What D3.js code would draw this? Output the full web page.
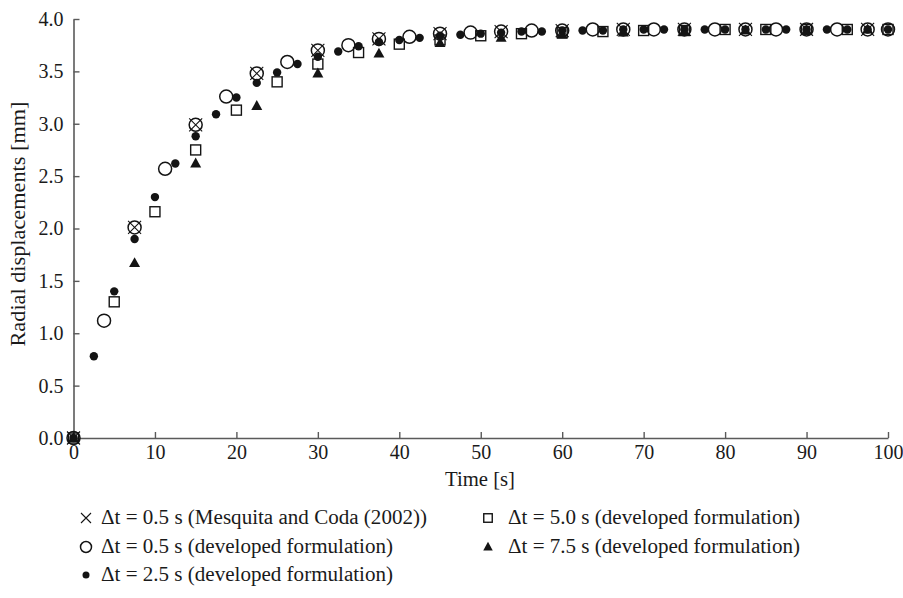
<!DOCTYPE html>
<html><head><meta charset="utf-8">
<script src="https://cdn.jsdelivr.net/npm/d3@7"></script>
<style>
html,body{margin:0;padding:0;background:#fff;}
text{font-family:"Liberation Serif","Times New Roman",serif;fill:#1a1a1a;}
</style></head>
<body><svg id="c" width="903" height="598"></svg>
<script>
const xTicks = [0,10,20,30,40,50,60,70,80,90,100];
const yTicks = [0,0.5,1,1.5,2,2.5,3,3.5,4];

const mesquitaT = [0,7.5,15,22.5,30,37.5,45,52.5,60,67.5,75,82.5,90,97.5];
const mesquitaV = [0,2.01,2.99,3.48,3.70,3.81,3.86,3.88,3.89,3.90,3.90,3.90,3.90,3.90];

const dt05T = [0,3.75,7.5,11.25,15,18.75,22.5,26.25,30,33.75,37.5,41.25,45,48.75,52.5,56.25,60,63.75,67.5,71.25,75,78.75,82.5,86.25,90,93.75,97.5,100];
const dt05V = [0,1.12,2.01,2.57,2.99,3.26,3.48,3.59,3.70,3.75,3.81,3.83,3.86,3.87,3.88,3.89,3.89,3.90,3.90,3.90,3.90,3.90,3.90,3.90,3.90,3.90,3.90,3.90];

const dt25T = [0,2.5,5,7.5,10,12.5,15,17.5,20,22.5,25,27.5,30,32.5,35,37.5,40,42.5,45,47.5,50,52.5,55,57.5,60,62.5,65,67.5,70,72.5,75,77.5,80,82.5,85,87.5,90,92.5,95,97.5,100];
const dt25V = [0,0.78,1.40,1.90,2.30,2.62,2.88,3.09,3.25,3.39,3.49,3.57,3.64,3.69,3.74,3.78,3.80,3.82,3.84,3.85,3.86,3.87,3.88,3.88,3.89,3.89,3.89,3.90,3.90,3.90,3.90,3.90,3.90,3.90,3.90,3.90,3.90,3.90,3.90,3.90,3.90];

const dt50T = [0,5,10,15,20,25,30,35,40,45,50,55,60,65,70,75,80,85,90,95,100];
const dt50V = [0,1.30,2.16,2.75,3.13,3.40,3.57,3.68,3.76,3.80,3.84,3.86,3.87,3.88,3.89,3.89,3.90,3.90,3.90,3.90,3.90];

const dt75T = [0,7.5,15,22.5,30,37.5,45,52.5,60,67.5,75,82.5,90,97.5];
const dt75V = [0,1.67,2.62,3.17,3.48,3.67,3.77,3.82,3.85,3.87,3.88,3.89,3.89,3.90];

const legendLabels = [
  "\u0394t = 0.5 s (Mesquita and Coda (2002))",
  "\u0394t = 0.5 s (developed formulation)",
  "\u0394t = 2.5 s (developed formulation)",
  "\u0394t = 5.0 s (developed formulation)",
  "\u0394t = 7.5 s (developed formulation)"
];

const svg = d3.select("#c");
const x = d3.scaleLinear().domain([0,100]).range([73.5,888]);
const y = d3.scaleLinear().domain([0,4]).range([438,19]);
const axisCol = "#5a5a5a";
const ink = "#141414";
const FS = 20;

// axes
const gx = svg.append("g").attr("transform","translate(0,438)")
  .call(d3.axisBottom(x).tickValues(xTicks).tickSizeInner(-6).tickSizeOuter(0).tickPadding(3).tickFormat(d3.format("d")));
const gy = svg.append("g").attr("transform","translate(73.5,0)")
  .call(d3.axisLeft(y).tickValues(yTicks).tickSizeInner(-6).tickSizeOuter(0).tickPadding(10).tickFormat(d3.format(".1f")));
[gx,gy].forEach(g=>{
  g.select(".domain").attr("stroke",axisCol).attr("stroke-width",1.6);
  g.selectAll(".tick line").attr("stroke",axisCol).attr("stroke-width",1.4);
  g.selectAll(".tick text").attr("font-size",FS).attr("font-family","Liberation Serif").attr("fill","#1a1a1a");
});
gx.selectAll(".tick text").attr("dy","0.9em");

svg.append("text").attr("x",480).attr("y",486).attr("text-anchor","middle").attr("font-size",FS)
  .attr("textLength",70).attr("lengthAdjust","spacingAndGlyphs").text("Time [s]");
svg.append("text").attr("transform","translate(25,224) rotate(-90)").attr("text-anchor","middle").attr("font-size",FS)
  .attr("textLength",245).attr("lengthAdjust","spacingAndGlyphs").text("Radial displacements [mm]");

// markers
const plot = svg.append("g");
const zip = (t,v)=>t.map((d,i)=>({t:d,v:v[i]}));

function drawCircle(g,cx,cy,r){ g.append("circle").attr("cx",cx).attr("cy",cy).attr("r",r).attr("fill","none").attr("stroke",ink).attr("stroke-width",1.5); }
function drawDot(g,cx,cy,r){ g.append("circle").attr("cx",cx).attr("cy",cy).attr("r",r).attr("fill",ink); }
function drawSquare(g,cx,cy,s){ g.append("rect").attr("x",cx-s/2).attr("y",cy-s/2).attr("width",s).attr("height",s).attr("fill","none").attr("stroke",ink).attr("stroke-width",1.4); }
function drawTri(g,cx,cy,s){ const h=s*0.9; g.append("path").attr("d",`M${cx},${cy-h*0.6}L${cx+s/2},${cy+h*0.4}L${cx-s/2},${cy+h*0.4}Z`).attr("fill",ink); }
function drawX(g,cx,cy,s){ g.append("path").attr("d",`M${cx-s},${cy-s}L${cx+s},${cy+s}M${cx-s},${cy+s}L${cx+s},${cy-s}`).attr("stroke",ink).attr("stroke-width",1.1).attr("fill","none"); }

zip(dt05T,dt05V).forEach(d=>drawCircle(plot,x(d.t),y(d.v),6.5));
zip(dt50T,dt50V).forEach(d=>drawSquare(plot,x(d.t),y(d.v),10));
zip(dt75T,dt75V).forEach(d=>drawTri(plot,x(d.t),y(d.v),11));
zip(dt25T,dt25V).forEach(d=>drawDot(plot,x(d.t),y(d.v),4.2));
zip(mesquitaT,mesquitaV).forEach(d=>drawX(plot,x(d.t),y(d.v),6.5));

// legend
const leg = svg.append("g");
const rows = [518,547,575];
const items = [
  {f:(g,cx,cy)=>drawX(g,cx,cy,5), col:0,row:0,w:326},
  {f:(g,cx,cy)=>drawCircle(g,cx,cy,5.5), col:0,row:1,w:292},
  {f:(g,cx,cy)=>drawDot(g,cx,cy,3.5), col:0,row:2,w:292},
  {f:(g,cx,cy)=>drawSquare(g,cx,cy,8.5), col:1,row:0,w:292},
  {f:(g,cx,cy)=>drawTri(g,cx,cy,9.5), col:1,row:1,w:292}
];
const colX = [86,488];
const colGap = [15,20];
items.forEach((it,i)=>{
  const cx = colX[it.col], cy = rows[it.row];
  it.f(leg,cx,cy);
  leg.append("text").attr("x",cx+colGap[it.col]).attr("y",cy+6).attr("font-size",FS)
    .attr("textLength",it.w).attr("lengthAdjust","spacingAndGlyphs").text(legendLabels[i]);
});
</script></body></html>
